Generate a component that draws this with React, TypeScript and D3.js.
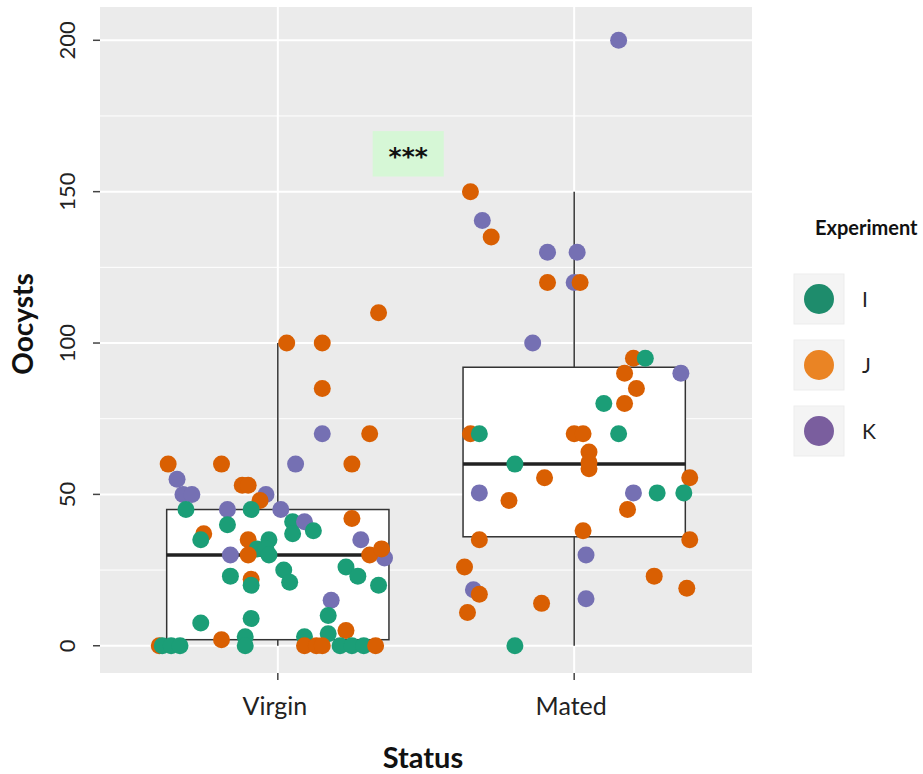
import React from "react";
import * as d3 from "d3";

const categories = ["Virgin", "Mated"];
const experiments = ["I", "J", "K"];
const pointColors = ["#1B9E77", "#D95F02", "#7570B3"];
const legendColors = ["#1E8C6C", "#EA8424", "#7A5E9E"];
const yTicks = [0, 50, 100, 150, 200];
const yMinor = [25, 75, 125, 175];

// box statistics: [virgin, mated]
const boxLow = [0, 0];
const boxQ1 = [2, 36];
const boxMedian = [30, 60];
const boxQ3 = [45, 92];
const boxHigh = [100, 150];

// points: [category index, jitter offset (category units), oocysts, experiment]
const virginPoints: [number, number, number, string][] = [
  [0, 0.34, 110, "J"], [0, 0.03, 100, "J"], [0, 0.15, 100, "J"], [0, 0.15, 85, "J"],
  [0, 0.15, 70, "K"], [0, 0.31, 70, "J"], [0, -0.37, 60, "J"], [0, -0.19, 60, "J"],
  [0, 0.06, 60, "K"], [0, 0.25, 60, "J"], [0, -0.34, 55, "K"], [0, -0.32, 50, "K"],
  [0, -0.29, 50, "K"], [0, -0.12, 53, "J"], [0, -0.1, 53, "J"], [0, -0.04, 50, "K"],
  [0, -0.06, 48, "J"], [0, -0.31, 45, "I"], [0, -0.17, 45, "K"], [0, -0.09, 45, "I"],
  [0, 0.01, 45, "K"], [0, 0.05, 41, "I"], [0, 0.09, 41, "K"], [0, 0.12, 38, "I"],
  [0, -0.17, 40, "I"], [0, 0.25, 42, "J"], [0, -0.25, 37, "J"], [0, -0.26, 35, "I"],
  [0, 0.05, 37, "I"], [0, -0.1, 35, "J"], [0, -0.03, 35, "I"], [0, -0.07, 32, "I"],
  [0, -0.04, 32, "I"], [0, -0.03, 30, "I"], [0, -0.16, 30, "K"], [0, -0.1, 30, "J"],
  [0, 0.28, 35, "K"], [0, 0.36, 29, "K"], [0, 0.31, 30, "J"], [0, 0.35, 32, "J"],
  [0, 0.02, 25, "I"], [0, 0.04, 21, "I"], [0, 0.23, 26, "I"], [0, 0.27, 23, "I"],
  [0, 0.34, 20, "I"], [0, -0.16, 23, "I"], [0, -0.09, 22, "J"], [0, -0.09, 20, "I"],
  [0, 0.18, 15, "K"], [0, 0.17, 10, "I"], [0, -0.26, 7.5, "I"], [0, -0.09, 9, "I"],
  [0, 0.23, 5, "J"], [0, 0.17, 4, "I"], [0, 0.09, 3, "I"], [0, -0.19, 2, "J"],
  [0, -0.11, 3, "I"], [0, -0.4, 0, "J"], [0, -0.39, 0, "I"], [0, -0.36, 0, "I"],
  [0, -0.33, 0, "I"], [0, -0.11, 0, "I"], [0, 0.09, 0, "J"], [0, 0.13, 0, "J"],
  [0, 0.15, 0, "J"], [0, 0.21, 0, "I"], [0, 0.25, 0, "I"], [0, 0.29, 0, "I"],
  [0, 0.33, 0, "J"],
];

const matedPoints: [number, number, number, string][] = [
  [1, 0.15, 200, "K"], [1, -0.35, 150, "J"], [1, -0.31, 140.5, "K"], [1, -0.28, 135, "J"],
  [1, -0.09, 130, "K"], [1, 0.01, 130, "K"], [1, -0.09, 120, "J"], [1, 0.0, 120, "K"],
  [1, 0.02, 120, "J"], [1, -0.14, 100, "K"], [1, 0.2, 95, "J"], [1, 0.24, 95, "I"],
  [1, 0.17, 90, "J"], [1, 0.36, 90, "K"], [1, 0.21, 85, "J"], [1, 0.1, 80, "I"],
  [1, 0.17, 80, "J"], [1, -0.35, 70, "J"], [1, -0.32, 70, "I"], [1, 0.0, 70, "J"],
  [1, 0.03, 70, "J"], [1, 0.15, 70, "I"], [1, 0.05, 64, "J"], [1, 0.05, 60.5, "J"],
  [1, 0.05, 58.5, "J"], [1, -0.2, 60, "I"], [1, -0.1, 55.5, "J"], [1, 0.39, 55.5, "J"],
  [1, -0.32, 50.5, "K"], [1, -0.22, 48, "J"], [1, 0.2, 50.5, "K"], [1, 0.28, 50.5, "I"],
  [1, 0.37, 50.5, "I"], [1, 0.18, 45, "J"], [1, 0.03, 38, "J"], [1, -0.32, 35, "J"],
  [1, 0.39, 35, "J"], [1, 0.04, 30, "K"], [1, -0.37, 26, "J"], [1, 0.27, 23, "J"],
  [1, 0.38, 19, "J"], [1, -0.34, 18.5, "K"], [1, -0.32, 17, "J"], [1, -0.11, 14, "J"],
  [1, 0.04, 15.5, "K"], [1, -0.36, 11, "J"], [1, -0.2, 0, "I"],
];

const W = 923;
const H = 774;
const panel = { left: 100, right: 752, top: 7, bottom: 673 };

export default function App() {
  const x = d3.scaleLinear().domain([0.4, 2.6]).range([panel.left, panel.right]);
  const y = d3.scaleLinear().domain([-9, 211]).range([panel.bottom, panel.top]);
  const color = d3.scaleOrdinal<string, string>().domain(experiments).range(pointColors);
  const legendColor = d3.scaleOrdinal<string, string>().domain(experiments).range(legendColors);
  const halfBox = 0.375;
  const font = "Lato, 'Open Sans', sans-serif";
  const points = [...virginPoints, ...matedPoints];

  return (
    <svg width={W} height={H} style={{ position: "absolute", left: 0, top: 0, background: "#fff" }}>
      <rect x={0} y={0} width={W} height={H} fill="#fff" />
      <rect x={panel.left} y={panel.top} width={panel.right - panel.left} height={panel.bottom - panel.top} fill="#EBEBEB" />
      {yMinor.map((v) => (
        <line key={"mi" + v} x1={panel.left} x2={panel.right} y1={y(v)} y2={y(v)} stroke="#fff" strokeWidth={1} />
      ))}
      {yTicks.map((v) => (
        <line key={"ma" + v} x1={panel.left} x2={panel.right} y1={y(v)} y2={y(v)} stroke="#fff" strokeWidth={2} />
      ))}
      {categories.map((c, i) => (
        <line key={"vx" + c} x1={x(i + 1)} x2={x(i + 1)} y1={panel.top} y2={panel.bottom} stroke="#fff" strokeWidth={2} />
      ))}
      {categories.map((c, i) => {
        const cx = x(i + 1);
        const x0 = x(i + 1 - halfBox);
        const x1 = x(i + 1 + halfBox);
        return (
          <g key={"box" + c}>
            <line x1={cx} x2={cx} y1={y(boxQ3[i])} y2={y(boxHigh[i])} stroke="#333" strokeWidth={1.5} />
            <line x1={cx} x2={cx} y1={y(boxQ1[i])} y2={y(boxLow[i])} stroke="#333" strokeWidth={1.5} />
            <rect x={x0} y={y(boxQ3[i])} width={x1 - x0} height={y(boxQ1[i]) - y(boxQ3[i])} fill="#fff" stroke="#333" strokeWidth={1.5} />
            <line x1={x0} x2={x1} y1={y(boxMedian[i])} y2={y(boxMedian[i])} stroke="#222" strokeWidth={3.5} />
          </g>
        );
      })}
      {points.map((p, k) => (
        <circle key={"p" + k} cx={x(p[0] + 1 + p[1])} cy={y(p[2])} r={8.5} fill={color(p[3])} />
      ))}
      {/* significance label */}
      <rect x={x(1.32)} y={y(170)} width={x(1.56) - x(1.32)} height={y(155) - y(170)} fill="#D6F7D6" />
      <text x={x(1.44)} y={y(162.5)} dy="0.45em" textAnchor="middle" fontFamily="'DejaVu Sans', sans-serif" fontSize={25} fontWeight="bold" fill="#111">***</text>
      {/* y axis */}
      {yTicks.map((v) => (
        <g key={"yt" + v}>
          <line x1={panel.left - 7} x2={panel.left} y1={y(v)} y2={y(v)} stroke="#444" strokeWidth={1.5} />
          <text transform={`translate(${panel.left - 25},${y(v)}) rotate(-90)`} textAnchor="middle" fontFamily={font} fontSize={22} fill="#222">{v}</text>
        </g>
      ))}
      {categories.map((c, i) => (
        <g key={"xt" + c}>
          <line x1={x(i + 1)} x2={x(i + 1)} y1={panel.bottom} y2={panel.bottom + 7} stroke="#444" strokeWidth={1.5} />
          <text x={x(i + 1) - 3} y={715} textAnchor="middle" fontFamily={font} fontSize={25} fill="#222">{c}</text>
        </g>
      ))}
      <text transform={`translate(33,324) rotate(-90)`} textAnchor="middle" fontFamily={font} fontSize={28} fontWeight="bold" fill="#111">Oocysts</text>
      <text x={423} y={768} textAnchor="middle" fontFamily={font} fontSize={29} fontWeight="bold" fill="#111">Status</text>
      {/* legend */}
      <text x={815} y={235} fontFamily={font} fontSize={20} fontWeight="bold" fill="#111">Experiment</text>
      {experiments.map((e, i) => {
        const cy = 299 + i * 66;
        return (
          <g key={"lg" + e}>
            <rect x={794} y={cy - 25} width={50} height={50} fill="#F4F4F4" stroke="#EDEDED" />
            <circle cx={819} cy={cy} r={15} fill={legendColor(e)} />
            <text x={862} y={cy} dy="0.36em" fontFamily={font} fontSize={21} fill="#222">{e}</text>
          </g>
        );
      })}
    </svg>
  );
}
